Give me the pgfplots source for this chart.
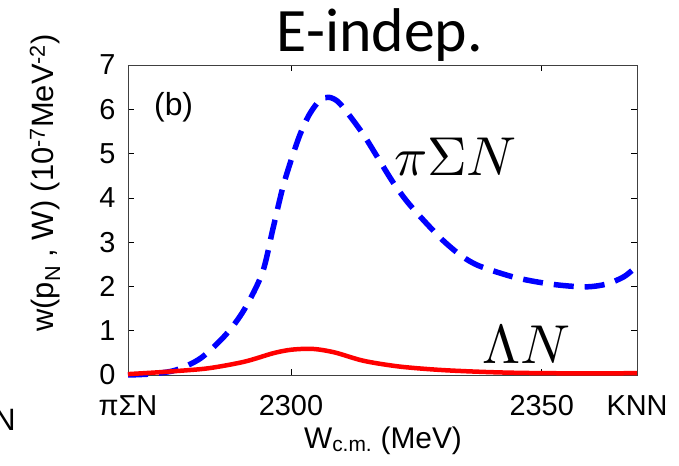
\documentclass[border=0pt]{standalone}
\usepackage{amsmath}
\usepackage{fontspec}
\setmainfont{Liberation Sans}
\newfontfamily\carlito{Carlito}
\usepackage{pgfplots}
\pgfplotsset{compat=1.18}
\begin{document}
\begin{tikzpicture}
\useasboundingbox (-128bp,-91bp) rectangle (551bp,375bp);
\begin{axis}[
  at={(0,0)}, anchor=south west,
  scale only axis, width=509bp, height=310bp,
  xmin=2267.5, xmax=2369, ymin=0, ymax=7,
  xtick={2267.5,2300,2350,2369},
  xticklabels={πΣN,2300,2350,KNN},
  ytick={0,1,2,3,4,5,6,7},
  tick style={black, line width=0.6bp},
  major tick length=6bp,
  axis line style={line width=0.8bp, black!75},
  tick label style={font=\fontsize{29}{29}\selectfont},
  /pgf/number format/assume math mode=true,
  x tick label style={yshift=-17bp},
  y tick label style={xshift=-9bp},
  clip=false,
]
\addplot[blue, line width=5.5bp, dash pattern=on 20bp off 11bp, smooth] table {
2267.5 0.00
2270 0.01
2272.6 0.03
2277 0.11
2282 0.38
2287 0.91
2290.7 1.48
2294.3 2.31
2296.4 3.30
2298.6 4.33
2301.5 5.34
2303.6 5.87
2305.8 6.21
2307.6 6.27
2309.4 6.17
2311.6 5.87
2314.5 5.42
2317.4 4.89
2320.3 4.36
2323.2 3.91
2326.8 3.45
2330.4 3.03
2334 2.69
2337.6 2.46
2344.8 2.20
2352 2.05
2358.5 1.99
2362.8 2.05
2366.4 2.22
2369 2.46
};
\addplot[red, line width=4.5bp, smooth] table {
2267.5 0.02
2272 0.05
2276 0.08
2283.4 0.15
2290.7 0.30
2296.4 0.49
2300 0.57
2304.3 0.59
2308.7 0.51
2314.5 0.32
2321.7 0.19
2330.4 0.11
2341 0.06
2352 0.04
2369 0.04
};
\node[anchor=base] at (axis cs:2276.6,5.85) {\fontsize{32}{32}\selectfont (b)};
\node[anchor=base, scale=5.5, inner sep=0pt] at (axis cs:2332.8,4.51) {$\pi\Sigma N$};
\node[anchor=base, scale=5.5, inner sep=0pt] at (axis cs:2346.9,0.27) {$\Lambda N$};
\end{axis}
\node[anchor=base] at (252bp,323bp) {\carlito\fontsize{62}{62}\selectfont E-indep.};
\node[rotate=90, anchor=center] at (-83bp,192bp) {\fontsize{31}{31}\selectfont w(p$_{\text{N}}$ , W) (10$^{\text{-7}}$MeV$^{\text{-2}}$)};
\node[anchor=base] at (255bp,-73bp) {\fontsize{30}{30}\selectfont W$_{\text{c.m.}}$ (MeV)};
\node[anchor=base east, inner sep=0pt] at (-112bp,-55bp) {\fontsize{31}{31}\selectfont N};
\end{tikzpicture}
\end{document}
